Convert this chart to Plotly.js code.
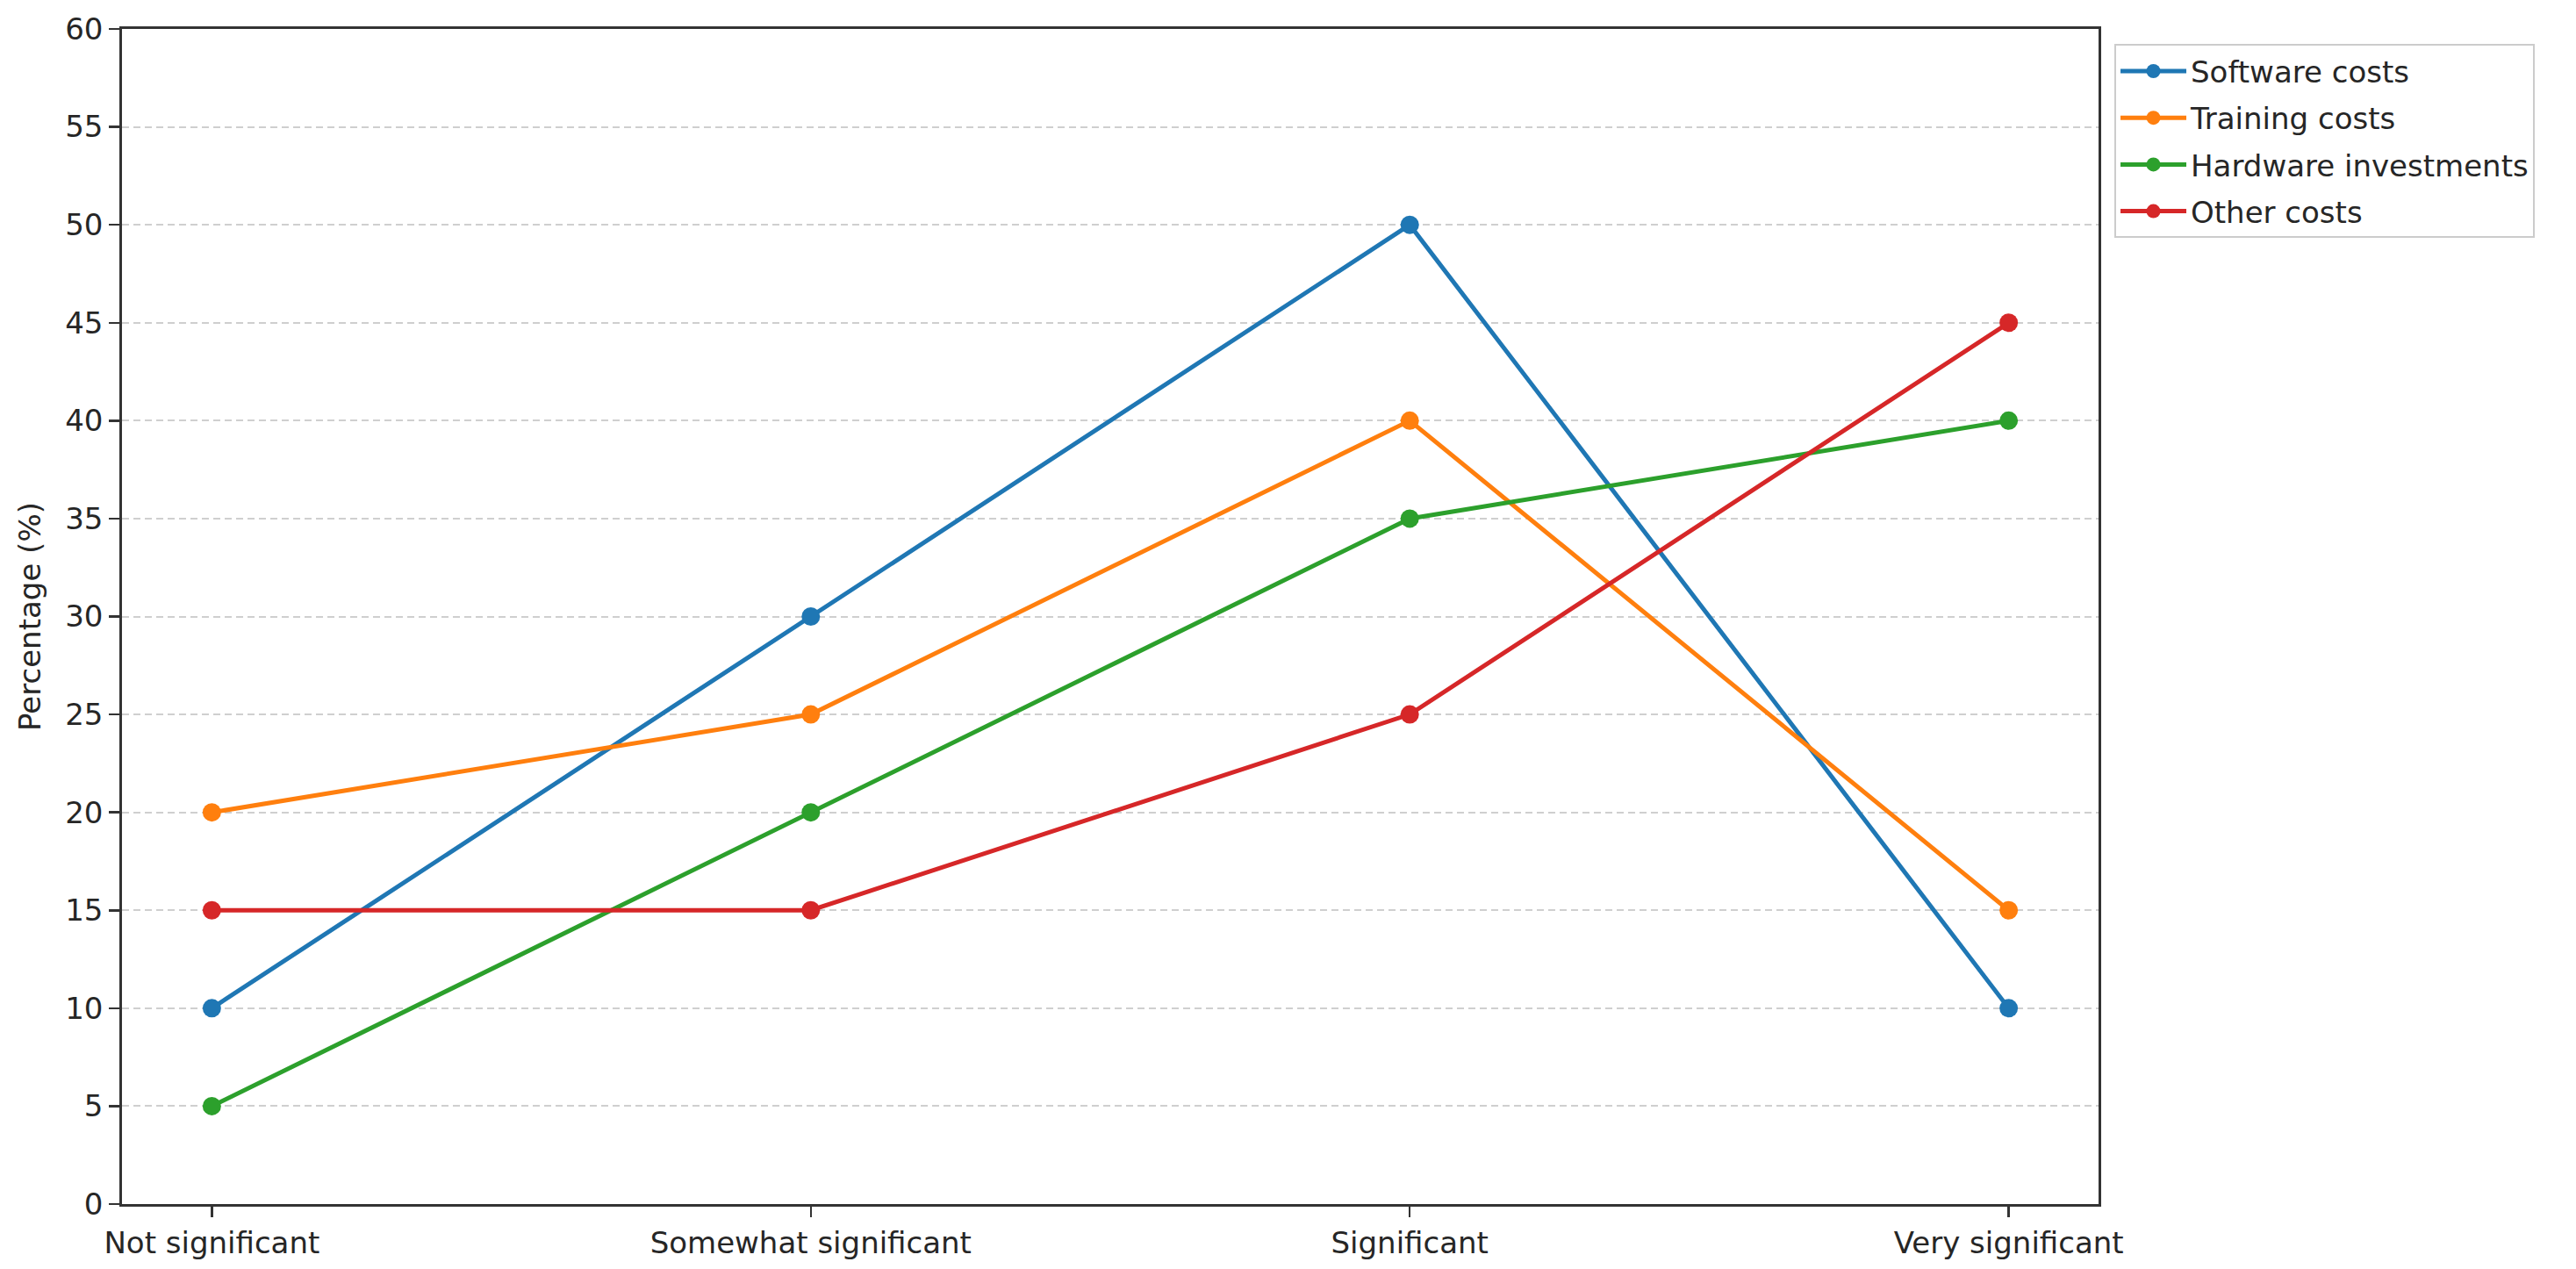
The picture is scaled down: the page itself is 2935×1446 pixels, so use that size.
<!DOCTYPE html>
<html>
<head>
<meta charset="utf-8">
<script src="https://cdn.plot.ly/plotly-3.0.1.min.js"></script>
<style>html,body{margin:0;padding:0;background:#fff;}#chart{width:2935px;height:1446px;}</style>
</head>
<body>
<div id="chart"></div>
<script>
const categories = ["Not significant", "Somewhat significant", "Significant", "Very significant"];
const seriesNames = ["Software costs", "Training costs", "Hardware investments", "Other costs"];
const softwareCosts = [10, 30, 50, 10];
const trainingCosts = [20, 25, 40, 15];
const hardwareInvestments = [5, 20, 35, 40];
const otherCosts = [15, 15, 25, 45];
const yTicks = [0, 5, 10, 15, 20, 25, 30, 35, 40, 45, 50, 55, 60];

const colors = ["#1f77b4", "#ff7f0e", "#2ca02c", "#d62728"];
const values = [softwareCosts, trainingCosts, hardwareInvestments, otherCosts];
const FONT = "DejaVu Sans, sans-serif";
const FS = 34;

const traces = values.map((v, i) => ({
  x: categories,
  y: v,
  name: seriesNames[i],
  type: "scatter",
  mode: "lines+markers",
  legendgroup: "g" + i,
  line: {color: colors[i], width: 5},
  marker: {color: colors[i], size: 21}
}));

const layout = {
  width: 2935,
  height: 1446,
  paper_bgcolor: "#fff",
  plot_bgcolor: "#fff",
  margin: {l: 139, r: 544, t: 33, b: 74},
  font: {family: FONT, size: FS, color: "#262626"},
  showlegend: true,
  legend: {
    x: 1.008, xanchor: "left",
    y: 0.987, yanchor: "top",
    bgcolor: "#fff",
    bordercolor: "#cccccc",
    borderwidth: 2,
    font: {family: FONT, size: FS, color: "#262626"},
    tracegroupgap: 6,
    itemwidth: 75,
    entrywidth: 400,
    entrywidthmode: "pixels"
  },
  xaxis: {
    type: "category",
    range: [-0.15, 3.15],
    showgrid: false,
    zeroline: false,
    showline: true,
    mirror: true,
    linecolor: "#333",
    linewidth: 2.7,
    ticks: "outside",
    ticklen: 12,
    tickwidth: 2.5,
    tickcolor: "#333",
    tickfont: {family: FONT, size: FS, color: "#262626"}
  },
  yaxis: {
    range: [0, 60],
    tickvals: yTicks,
    ticktext: yTicks.map(String),
    showgrid: true,
    gridcolor: "#cfcfcf",
    gridwidth: 2,
    griddash: "8px,5px",
    zeroline: false,
    showline: true,
    mirror: true,
    linecolor: "#333",
    linewidth: 2.7,
    ticks: "outside",
    ticklen: 12,
    tickwidth: 2.5,
    tickcolor: "#333",
    tickfont: {family: FONT, size: FS, color: "#262626"},
    title: {text: "Percentage (%)", font: {family: FONT, size: FS, color: "#262626"}, standoff: 18}
  }
};

Plotly.newPlot("chart", traces, layout, {displayModeBar: false, staticPlot: true});
</script>
</body>
</html>
